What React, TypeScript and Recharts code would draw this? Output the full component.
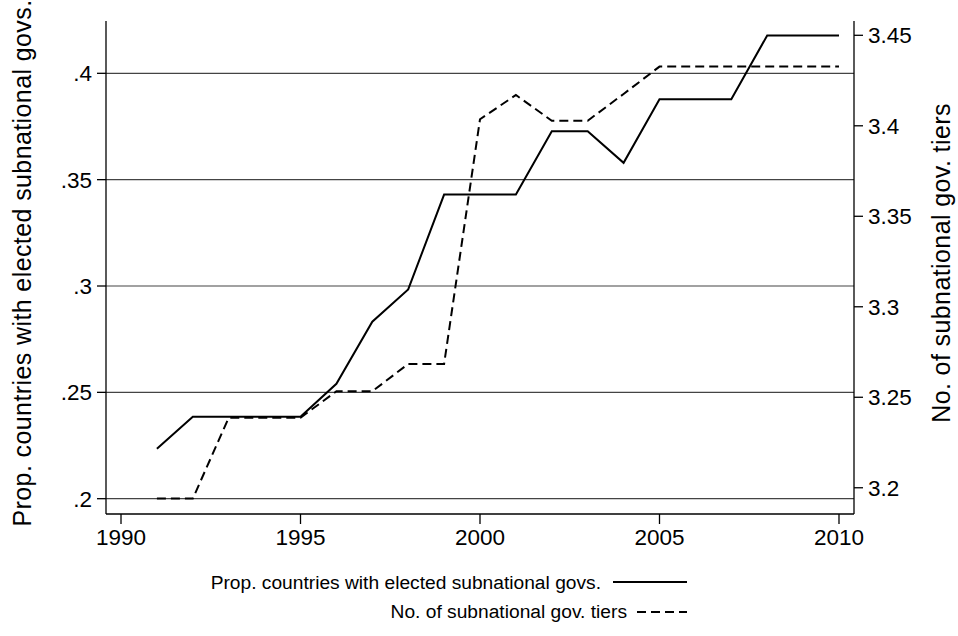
import React from 'react';
import { ComposedChart, Line, XAxis, YAxis, ReferenceLine } from 'recharts';

const years = [1991, 1992, 1993, 1994, 1995, 1996, 1997, 1998, 1999, 2000, 2001, 2002, 2003, 2004, 2005, 2006, 2007, 2008, 2009, 2010];
const propElected = [0.2235, 0.2385, 0.2385, 0.2385, 0.2385, 0.254, 0.2832, 0.2984, 0.343, 0.343, 0.343, 0.3728, 0.3728, 0.3579, 0.3878, 0.3878, 0.3878, 0.4178, 0.4178, 0.4178];
const numTiers = [3.194, 3.194, 3.2387, 3.2387, 3.2387, 3.2533, 3.2533, 3.2684, 3.2684, 3.4036, 3.417, 3.4028, 3.4028, 3.4176, 3.4327, 3.4327, 3.4327, 3.4327, 3.4327, 3.4327];

const xTicks = [1990, 1995, 2000, 2005, 2010];
const leftTicks = [0.2, 0.25, 0.3, 0.35, 0.4];
const rightTicks = [3.2, 3.25, 3.3, 3.35, 3.4, 3.45];

const seriesNames = {
  prop: 'Prop. countries with elected subnational govs.',
  tiers: 'No. of subnational gov. tiers',
};
const axisTitles = {
  left: 'Prop. countries with elected subnational govs.',
  right: 'No. of subnational gov. tiers',
};

const data = years.map((y, i) => ({ year: y, prop: propElected[i], tiers: numTiers[i] }));

const FONT = '"Liberation Sans", Arial, Helvetica, sans-serif';
const tickStyle = { fill: '#000', fontSize: 22.5, fontFamily: FONT };

const fmtLeft = (v: number) => String(v).replace(/^0/, '');
const fmtRight = (v: number) => String(v);

export default function App() {
  return (
    <div style={{ position: 'absolute', left: 0, top: 0, width: 958, height: 636, background: '#fff' }}>
      <ComposedChart width={958} height={636} data={data} margin={{ top: 21, right: 0, bottom: 82, left: 0 }}>
        <XAxis
          dataKey="year"
          type="number"
          domain={[1989.582, 2010.418]}
          ticks={xTicks}
          allowDataOverflow
          height={40}
          tickSize={10}
          tickMargin={5}
          tick={tickStyle}
          axisLine={{ stroke: '#000', strokeWidth: 1.3 }}
          tickLine={{ stroke: '#000', strokeWidth: 1.3 }}
        />
        <YAxis
          yAxisId="left"
          orientation="left"
          width={106}
          domain={[0.1928, 0.4246]}
          ticks={leftTicks}
          allowDataOverflow
          tickFormatter={fmtLeft}
          tickSize={9}
          tickMargin={5}
          tick={tickStyle}
          axisLine={{ stroke: '#000', strokeWidth: 1.3 }}
          tickLine={{ stroke: '#000', strokeWidth: 1.3 }}
        />
        <YAxis
          yAxisId="right"
          orientation="right"
          width={104}
          domain={[3.1855, 3.4579]}
          ticks={rightTicks}
          allowDataOverflow
          tickFormatter={fmtRight}
          tickSize={9}
          tickMargin={5}
          tick={tickStyle}
          axisLine={{ stroke: '#000', strokeWidth: 1.3 }}
          tickLine={{ stroke: '#000', strokeWidth: 1.3 }}
        />
        {leftTicks.map((t) => (
          <ReferenceLine key={t} yAxisId="left" y={t} stroke="#444" strokeWidth={1.2} ifOverflow="hidden" />
        ))}
        <Line
          yAxisId="left"
          dataKey="prop"
          name={seriesNames.prop}
          stroke="#000"
          strokeWidth={2}
          dot={false}
          isAnimationActive={false}
          type="linear"
        />
        <Line
          yAxisId="right"
          dataKey="tiers"
          name={seriesNames.tiers}
          stroke="#000"
          strokeWidth={2}
          strokeDasharray="9 5"
          dot={false}
          isAnimationActive={false}
          type="linear"
        />
      </ComposedChart>
      <svg width={958} height={636} style={{ position: 'absolute', left: 0, top: 0, pointerEvents: 'none' }}>
        <text x={31} y={263} transform="rotate(-90 31 263)" textAnchor="middle" fontSize={25} letterSpacing={0.4} fontFamily={FONT} fill="#000">
          {axisTitles.left}
        </text>
        <text x={950} y={263} transform="rotate(-90 950 263)" textAnchor="middle" fontSize={25} letterSpacing={0.4} fontFamily={FONT} fill="#000">
          {axisTitles.right}
        </text>
        <text x={601} y={589} textAnchor="end" fontSize={19.2} fontFamily={FONT} fill="#000">
          {seriesNames.prop}
        </text>
        <line x1={613} x2={687} y1={582} y2={582} stroke="#000" strokeWidth={2} />
        <text x={627} y={618} textAnchor="end" fontSize={19.2} fontFamily={FONT} fill="#000">
          {seriesNames.tiers}
        </text>
        <line x1={637} x2={687} y1={612} y2={612} stroke="#000" strokeWidth={2} strokeDasharray="9 5" />
      </svg>
    </div>
  );
}
